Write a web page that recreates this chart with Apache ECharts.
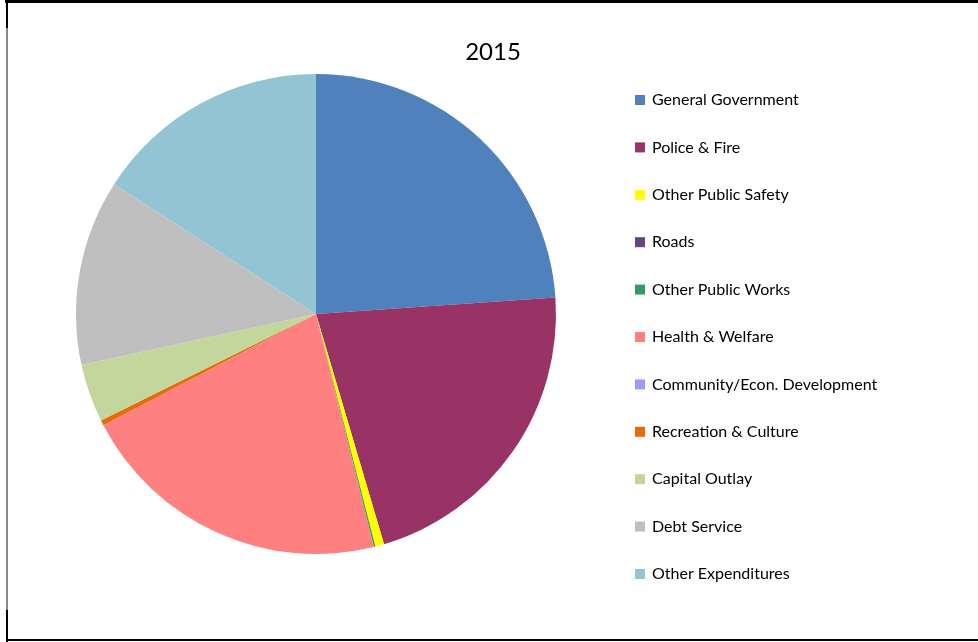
<!DOCTYPE html>
<html>
<head>
<meta charset="utf-8">
<script src="https://cdn.jsdelivr.net/npm/echarts@6/dist/echarts.min.js"></script>
<style>
  html, body { margin: 0; padding: 0; background: #fff; }
  #chart1 { width: 978px; height: 642px; }
</style>
</head>
<body>
<div id="chart1"></div>
<script>
// valores 2015 (porcentaje aprox.)
var categorias = ['General Government', 'Police & Fire', 'Other Public Safety', 'Roads',
  'Other Public Works', 'Health & Welfare', 'Community/Econ. Development',
  'Recreation & Culture', 'Capital Outlay', 'Debt Service', 'Other Expenditures'];
var valores = [23.9, 21.5, 0.6, 0, 0.1, 21.2, 0, 0.35, 3.9, 12.5, 15.9];
var colores = ['#4F81BD', '#993366', '#FFFF00', '#604A7B', '#339966', '#FF8080',
  '#9999FF', '#E46C0A', '#C3D69B', '#BFBFBF', '#93C4D4'];

function getOptionChart1() {
  var datos = [];
  for (var i = 0; i < categorias.length; i++) {
    datos.push({ name: categorias[i], value: valores[i], itemStyle: { color: colores[i] } });
  }
  return {
    animation: false,
    title: {
      text: '2015',
      left: 493,
      top: 40,
      padding: 0,
      textAlign: 'center',
      textStyle: { fontFamily: 'Lato', fontSize: 24, fontWeight: 'normal', color: '#000' }
    },
    legend: {
      orient: 'vertical',
      left: 635,
      top: 91,
      padding: 0,
      itemWidth: 10,
      itemHeight: 10,
      itemGap: 29.4,
      icon: 'rect',
      data: categorias,
      textStyle: { fontFamily: 'Lato', fontSize: 16, color: '#000', lineHeight: 18, padding: [0, 0, 0, 2] }
    },
    graphic: [
      { type: 'rect', shape: { x: 5, y: 0, width: 980, height: 3 }, style: { fill: '#000' } },
      { type: 'rect', shape: { x: 6, y: 0, width: 2, height: 642 }, style: { fill: '#888' } },
      { type: 'rect', shape: { x: 6, y: 0, width: 2, height: 28 }, style: { fill: '#000' } },
      { type: 'rect', shape: { x: 6, y: 610, width: 2, height: 32 }, style: { fill: '#000' } },
      { type: 'rect', shape: { x: 6, y: 639, width: 980, height: 2 }, style: { fill: '#000' } }
    ],
    series: [{
      type: 'pie',
      center: [316, 314],
      radius: 240,
      startAngle: 90,
      clockwise: true,
      label: { show: false },
      labelLine: { show: false },
      emphasis: { disabled: true },
      itemStyle: { borderWidth: 0 },
      data: datos
    }]
  };
}

window.addEventListener('load', function () {
  var chart1 = echarts.init(document.getElementById('chart1'));
  chart1.setOption(getOptionChart1());
});
</script>
</body>
</html>
